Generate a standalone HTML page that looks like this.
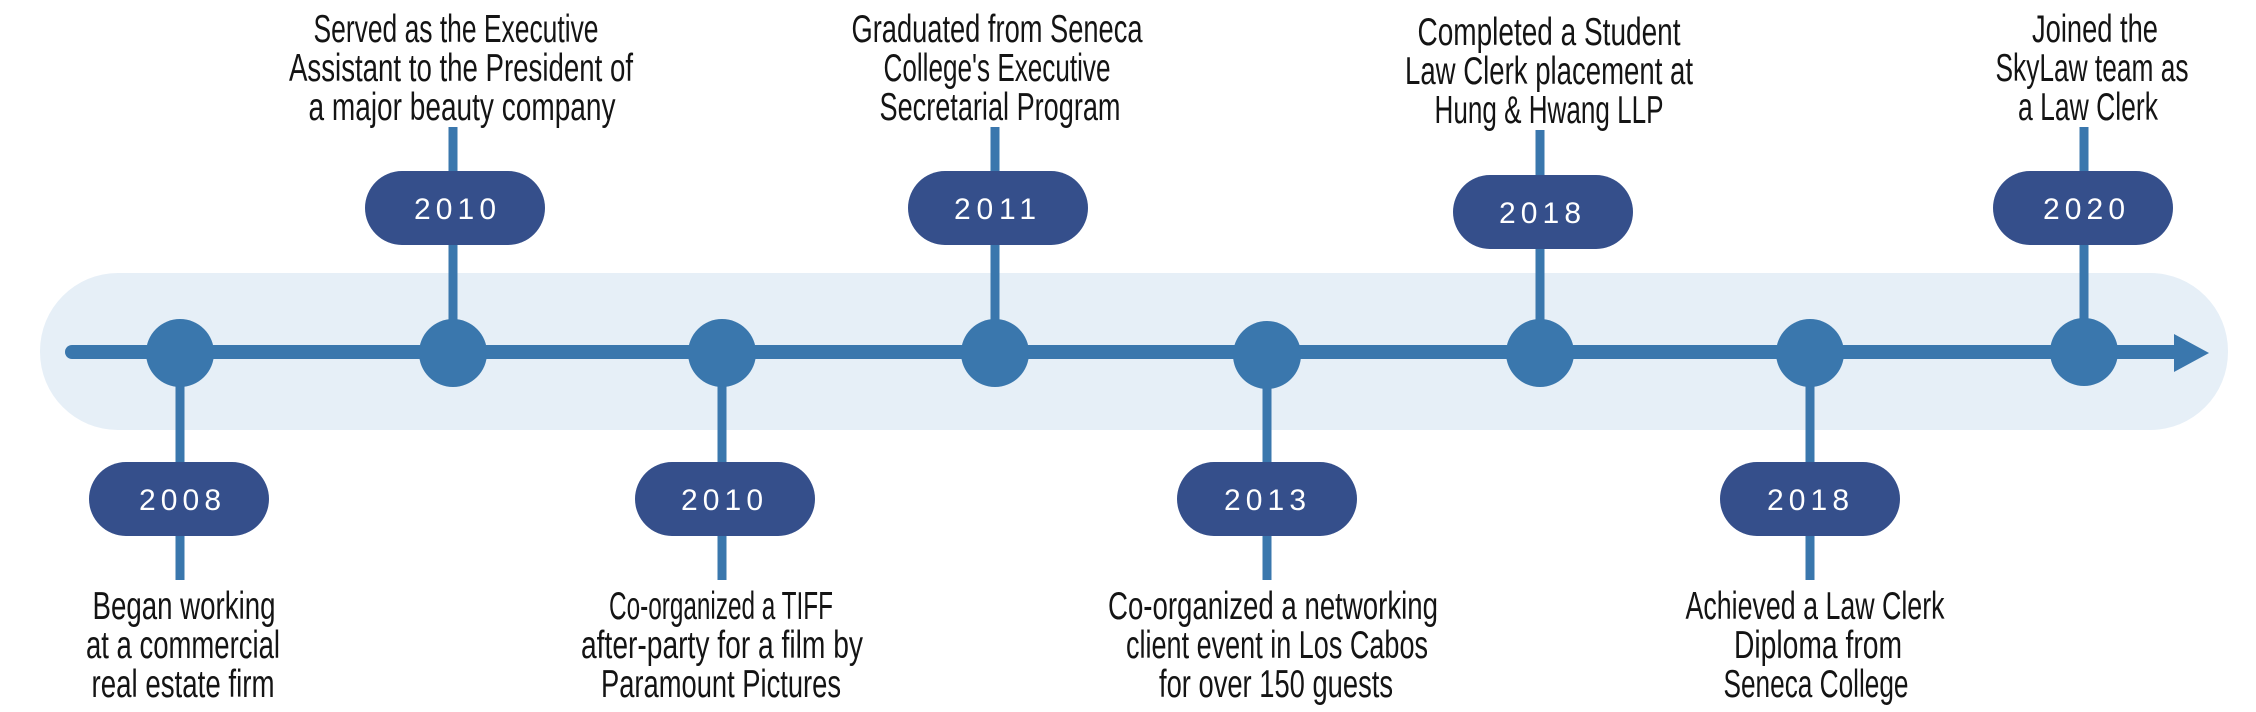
<!DOCTYPE html>
<html><head><meta charset="utf-8"><style>
html,body{margin:0;padding:0;background:#fff;width:2256px;height:712px;overflow:hidden}
svg{display:block}
.t{font-family:"Liberation Sans",sans-serif;font-size:39px;fill:#141414;text-anchor:middle}
.y{font-family:"Liberation Sans",sans-serif;font-size:30px;fill:#fff;text-anchor:middle}
</style></head><body>
<svg width="2256" height="712" viewBox="0 0 2256 712" xmlns="http://www.w3.org/2000/svg">
<rect x="40" y="273" width="2188" height="157" rx="78" fill="#e6eff7"/>
<g stroke="#3a77ad" stroke-width="9">
<line x1="180" y1="352" x2="180" y2="580"/>
<line x1="453" y1="127" x2="453" y2="352"/>
<line x1="722" y1="352" x2="722" y2="580"/>
<line x1="995" y1="127" x2="995" y2="352"/>
<line x1="1267" y1="352" x2="1267" y2="580"/>
<line x1="1540" y1="130" x2="1540" y2="352"/>
<line x1="1810" y1="352" x2="1810" y2="580"/>
<line x1="2084" y1="127" x2="2084" y2="352"/>
</g>
<line x1="72" y1="352" x2="2180" y2="352" stroke="#3a77ad" stroke-width="14" stroke-linecap="round"/>
<polygon points="2174,334 2209,353 2174,372" fill="#3a77ad"/>
<g fill="#3a77ad">
<circle cx="180" cy="353" r="34"/><circle cx="453" cy="353" r="34"/><circle cx="722" cy="353" r="34"/><circle cx="995" cy="353" r="34"/>
<circle cx="1267" cy="355" r="34"/><circle cx="1540" cy="353" r="34"/><circle cx="1810" cy="353" r="34"/><circle cx="2084" cy="352" r="34"/>
</g>
<g fill="#354f8b">
<rect x="89" y="462" width="180" height="74" rx="37"/>
<rect x="365" y="171" width="180" height="74" rx="37"/>
<rect x="635" y="462" width="180" height="74" rx="37"/>
<rect x="908" y="171" width="180" height="74" rx="37"/>
<rect x="1177" y="462" width="180" height="74" rx="37"/>
<rect x="1453" y="175" width="180" height="74" rx="37"/>
<rect x="1720" y="462" width="180" height="74" rx="37"/>
<rect x="1993" y="171" width="180" height="74" rx="37"/>
</g>
<g>
<text class="y" x="180" y="510" textLength="82" lengthAdjust="spacing">2008</text>
<text class="y" x="455" y="219" textLength="82" lengthAdjust="spacing">2010</text>
<text class="y" x="722" y="510" textLength="82" lengthAdjust="spacing">2010</text>
<text class="y" x="995" y="219" textLength="82" lengthAdjust="spacing">2011</text>
<text class="y" x="1265" y="510" textLength="82" lengthAdjust="spacing">2013</text>
<text class="y" x="1540" y="223" textLength="82" lengthAdjust="spacing">2018</text>
<text class="y" x="1808" y="510" textLength="82" lengthAdjust="spacing">2018</text>
<text class="y" x="2084" y="219" textLength="82" lengthAdjust="spacing">2020</text>
</g>
<g>
<text class="t" x="456" y="42" textLength="285" lengthAdjust="spacingAndGlyphs">Served as the Executive</text>
<text class="t" x="461" y="81" textLength="344" lengthAdjust="spacingAndGlyphs">Assistant to the President of</text>
<text class="t" x="462" y="120" textLength="307" lengthAdjust="spacingAndGlyphs">a major beauty company</text>

<text class="t" x="997" y="42" textLength="291" lengthAdjust="spacingAndGlyphs">Graduated from Seneca</text>
<text class="t" x="997" y="81" textLength="227" lengthAdjust="spacingAndGlyphs">College's Executive</text>
<text class="t" x="1000" y="120" textLength="241" lengthAdjust="spacingAndGlyphs">Secretarial Program</text>

<text class="t" x="1549" y="45" textLength="263" lengthAdjust="spacingAndGlyphs">Completed a Student</text>
<text class="t" x="1549" y="84" textLength="288" lengthAdjust="spacingAndGlyphs">Law Clerk placement at</text>
<text class="t" x="1549" y="123" textLength="229" lengthAdjust="spacingAndGlyphs">Hung &amp; Hwang LLP</text>

<text class="t" x="2095" y="42" textLength="126" lengthAdjust="spacingAndGlyphs">Joined the</text>
<text class="t" x="2092" y="81" textLength="193" lengthAdjust="spacingAndGlyphs">SkyLaw team as</text>
<text class="t" x="2088" y="120" textLength="140" lengthAdjust="spacingAndGlyphs">a Law Clerk</text>

<text class="t" x="184" y="619" textLength="183" lengthAdjust="spacingAndGlyphs">Began working</text>
<text class="t" x="183" y="658" textLength="194" lengthAdjust="spacingAndGlyphs">at a commercial</text>
<text class="t" x="183" y="697" textLength="183" lengthAdjust="spacingAndGlyphs">real estate firm</text>

<text class="t" x="721" y="619" textLength="224" lengthAdjust="spacingAndGlyphs">Co-organized a TIFF</text>
<text class="t" x="722" y="658" textLength="282" lengthAdjust="spacingAndGlyphs">after-party for a film by</text>
<text class="t" x="721" y="697" textLength="240" lengthAdjust="spacingAndGlyphs">Paramount Pictures</text>

<text class="t" x="1273" y="619" textLength="330" lengthAdjust="spacingAndGlyphs">Co-organized a networking</text>
<text class="t" x="1277" y="658" textLength="302" lengthAdjust="spacingAndGlyphs">client event in Los Cabos</text>
<text class="t" x="1276" y="697" textLength="234" lengthAdjust="spacingAndGlyphs">for over 150 guests</text>

<text class="t" x="1815" y="619" textLength="259" lengthAdjust="spacingAndGlyphs">Achieved a Law Clerk</text>
<text class="t" x="1818" y="658" textLength="168" lengthAdjust="spacingAndGlyphs">Diploma from</text>
<text class="t" x="1816" y="697" textLength="185" lengthAdjust="spacingAndGlyphs">Seneca College</text>
</g>
</svg>
</body></html>
